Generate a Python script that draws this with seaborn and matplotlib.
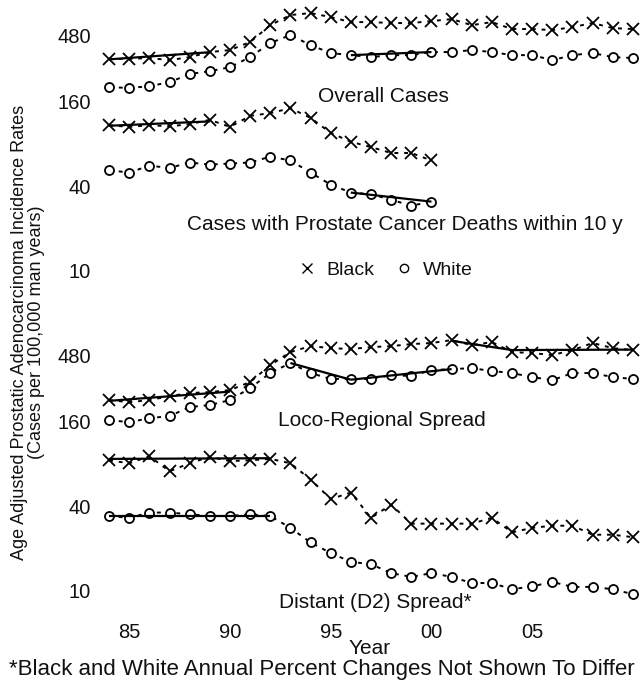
import numpy as np
import pandas as pd
import seaborn as sns
import matplotlib
matplotlib.use('Agg')
import matplotlib.pyplot as plt
from matplotlib.lines import Line2D

sns.set_style('white')
plt.rcParams['font.family'] = ['Liberation Sans', 'DejaVu Sans']
plt.rcParams['text.color'] = '#111111'
plt.rcParams['xtick.color'] = '#111111'
plt.rcParams['ytick.color'] = '#111111'

years = list(range(1984, 2011))
years_10y = list(range(1984, 2001))

# observed rates (cases per 100,000)
black_overall = [324, 324, 329, 318, 334, 363, 375, 428, 565, 667, 689, 645, 594, 594,
                 585, 585, 604, 624, 565, 594, 530, 530, 521, 547, 585, 538, 530]
white_overall = [204, 201, 207, 221, 253, 265, 283, 334, 421, 480, 407, 357, 345, 334,
                 345, 345, 363, 363, 375, 363, 345, 345, 318, 345, 357, 334, 329]
black_deaths10 = [109, 106, 109, 107, 111, 119, 106, 127, 133, 144, 123, 96, 83, 76, 69, 69, 61]
white_deaths10 = [52, 50, 56, 54, 59, 57, 58, 59, 65, 61, 50, 41, 36, 35, 32, 29, 31]
black_loco = [229, 221, 229, 244, 257, 261, 270, 308, 407, 504, 556, 538, 530, 547,
              556, 575, 585, 614, 565, 594, 504, 496, 480, 521, 585, 538, 521]
white_loco = [165, 159, 170, 176, 204, 211, 229, 279, 357, 421, 357, 324, 324, 324,
              345, 340, 375, 381, 387, 369, 357, 334, 318, 357, 357, 334, 324]
black_distant = [85, 81, 91, 71, 81, 90, 84, 85, 87, 81, 62, 45, 50, 33, 41, 30,
                 30, 30, 30, 33, 26, 28, 29, 29, 25, 25, 24]
white_distant = [34, 33, 36, 36, 35, 34, 34, 35, 34, 28, 22, 18.5, 16, 15.4, 13.3, 12.5,
                 13.3, 12.5, 11.3, 11.3, 10.2, 10.7, 11.5, 10.6, 10.6, 10.2, 9.4]

# joinpoint fitted segments: (start year, end year, start value, end value)
fits_top = [
    (1984, 1989, 322, 362),    # black overall
    (1996, 2000, 345, 363),    # white overall
    (1984, 1989, 108, 116),    # black deaths 10y
    (1996, 2000, 36, 31),      # white deaths 10y
]
fits_bottom = [
    (1984, 1990, 226, 263),    # black loco
    (2001, 2004, 607, 521),
    (2004, 2010, 521, 525),
    (1993, 1996, 421, 320),    # white loco
    (1996, 2001, 320, 381),
    (1984, 1992, 87, 88),      # black distant
    (1984, 1992, 34, 34),      # white distant
]

ytick_vals = [10, 40, 160, 480]
xtick_vals = [1985, 1990, 1995, 2000, 2005]
xtick_labels = ['85', '90', '95', '00', '05']

W, H = 641, 682
fig = plt.figure(figsize=(W / 100, H / 100), dpi=100)


def px_axes(left, top, right, bottom):
    return fig.add_axes([left / W, 1 - bottom / H, (right - left) / W, (bottom - top) / H])


ax_top = px_axes(99, 4, 641, 301.5)
ax_bot = px_axes(99, 324, 641, 621.5)

dash = (0, (2, 3))


def draw_series(ax, x, y, marker):
    df = pd.DataFrame({'year': x, 'rate': y})
    if marker == 'x':
        sns.lineplot(data=df, x='year', y='rate', ax=ax, color='black', lw=1.4, ls=dash,
                     marker='x', ms=8, mew=1.3, mec='black', clip_on=False)
    else:
        sns.lineplot(data=df, x='year', y='rate', ax=ax, color='black', lw=1.4, ls=dash,
                     marker='o', ms=6.5, mew=1.3, mfc='white', mec='black', clip_on=False)


def draw_fits(ax, fits):
    for y0, y1, v0, v1 in fits:
        ax.plot([y0, y1], [v0, v1], color='black', lw=1.6, solid_capstyle='butt')


draw_series(ax_top, years, black_overall, 'x')
draw_series(ax_top, years, white_overall, 'o')
draw_series(ax_top, years_10y, black_deaths10, 'x')
draw_series(ax_top, years_10y, white_deaths10, 'o')
draw_fits(ax_top, fits_top)

draw_series(ax_bot, years, black_loco, 'x')
draw_series(ax_bot, years, white_loco, 'o')
draw_series(ax_bot, years, black_distant, 'x')
draw_series(ax_bot, years, white_distant, 'o')
draw_fits(ax_bot, fits_bottom)

for ax in (ax_top, ax_bot):
    ax.set_yscale('log')
    ax.set_ylim(6, 800)
    ax.set_xlim(1983.5, 2010.4)
    ax.set_yticks(ytick_vals)
    ax.set_yticklabels([str(v) for v in ytick_vals])
    ax.minorticks_off()
    ax.tick_params(axis='both', length=0, labelsize=14.5, pad=6)
    ax.set_xlabel('')
    ax.set_ylabel('')
    sns.despine(ax=ax, left=True, bottom=True)

ax_top.set_xticks([])
ax_bot.set_xticks(xtick_vals)
ax_bot.set_xticklabels(xtick_labels)
ax_bot.tick_params(axis='x', pad=1)

txt = dict(ha='center', va='center', fontsize=15)
fig.text(383 / W, 1 - 97 / H, 'Overall Cases', **txt)
fig.text(405 / W, 1 - 225 / H, 'Cases with Prostate Cancer Deaths within 10 y', **txt)
fig.text(382 / W, 1 - 420 / H, 'Loco-Regional Spread', **txt)
fig.text(375 / W, 1 - 603 / H, 'Distant (D2) Spread*', **txt)
fig.text(370 / W, 1 - 649 / H, 'Year', **txt)
fig.text(322 / W, 1 - 669 / H, '*Black and White Annual Percent Changes Not Shown To Differ',
         ha='center', va='center', fontsize=16)
fig.text(28 / W, 1 - 332 / H,
         'Age Adjusted Prostatic Adenocarcinoma Incidence Rates\n(Cases per 100,000 man years)',
         rotation=90, ha='center', va='center', fontsize=13, linespacing=1.05)

handles = [
    Line2D([], [], color='black', marker='x', ls='none', ms=7, mew=1.0),
    Line2D([], [], color='black', marker='o', ls='none', ms=6, mew=1.0, mfc='white'),
]
fig.legend(handles, ['Black', 'White'], loc='center', ncol=2, frameon=False,
           bbox_to_anchor=(385 / W, 1 - 270 / H), fontsize=14, handletextpad=0.5,
           columnspacing=1.0, handlelength=1.0)

fig.savefig('out.png', dpi=100)
